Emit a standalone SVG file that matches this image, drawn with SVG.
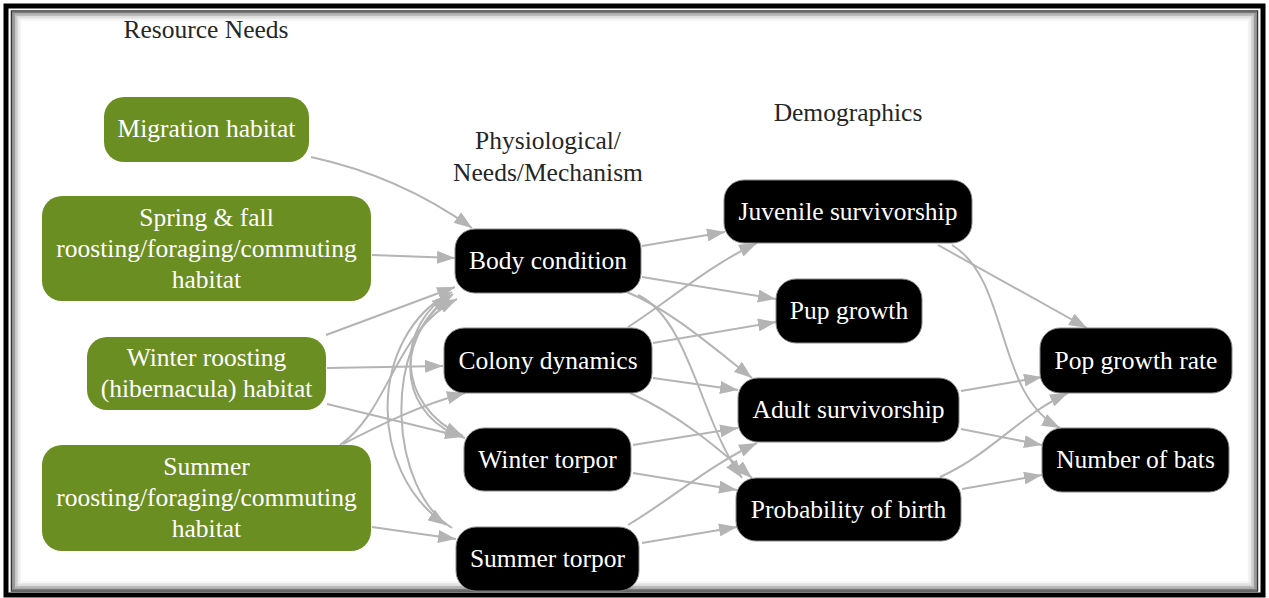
<svg xmlns="http://www.w3.org/2000/svg" width="1269" height="598" viewBox="0 0 1269 598">
<style>
.g{fill:#6b8e23;}
.b{fill:#000;stroke:#8a8a8a;stroke-width:1;}
.t{font-size:25.5px;fill:#fff;text-anchor:middle;}
.h{font-size:25.5px;fill:#262626;text-anchor:middle;}
.e{fill:none;stroke:#b4b4b4;stroke-width:2;marker-end:url(#ah);}
</style>
<defs>
<marker id="ah" markerUnits="userSpaceOnUse" markerWidth="18" markerHeight="13" refX="18" refY="6.5" orient="auto">
<path d="M0,0 L18,6.5 L0,13 z" fill="#b4b4b4"/>
</marker>
</defs>
<rect x="0" y="0" width="1269" height="598" fill="#fff"/>
<g id="frame" fill="none">
<rect x="6" y="6" width="1257" height="589" stroke="#000" stroke-width="5"/>
<rect x="11.5" y="11" width="1246" height="580" stroke="#333" stroke-width="1.5"/>
<rect x="13" y="12.5" width="1243" height="577" stroke="#777" stroke-width="1.5"/>
<rect x="14.5" y="14" width="1240" height="574" stroke="#9a9a9a" stroke-width="1.5"/>
<rect x="16" y="15.5" width="1237" height="571" stroke="#bbb" stroke-width="1.5"/>
<rect x="17.5" y="17" width="1234" height="568" stroke="#d6d6d6" stroke-width="1.5"/>
<rect x="19" y="18.5" width="1231" height="565" stroke="#e8e8e8" stroke-width="1.5"/>
<rect x="20.5" y="20" width="1228" height="562" stroke="#f5f5f5" stroke-width="1.5"/>
</g>
<g id="headers" font-family="'Liberation Serif', 'Times New Roman', 'DejaVu Serif', serif">
<text class="h" x="206" y="38">Resource Needs</text>
<text class="h" x="548" y="149">Physiological/</text>
<text class="h" x="548" y="181">Needs/Mechanism</text>
<text class="h" x="848" y="121">Demographics</text>
</g>
<g id="connectors">
<path class="e" d="M311,157 C380,172 430,198 472,228"/>
<path class="e" d="M372,255 L455,258"/>
<path class="e" d="M326,335 L455,287"/>
<path class="e" d="M327,368 L443,366"/>
<path class="e" d="M327,404 L463,437"/>
<path class="e" d="M340,445 C390,410 395,330 457,299"/>
<path class="e" d="M343,444 C380,425 420,405 465,393"/>
<path class="e" d="M372,527 L456,539"/>
<path class="e" d="M452,292 C395,325 395,405 463,436"/>
<path class="e" d="M450,293 C370,335 365,470 446,525"/>
<path class="e" d="M452,528 C390,490 380,345 450,296"/>
<path class="e" d="M465,438 C405,420 385,345 453,294"/>
<path class="e" d="M642,246 L725,232"/>
<path class="e" d="M642,277 L776,299"/>
<path class="e" d="M628,327 C670,300 710,265 757,243"/>
<path class="e" d="M653,343 L776,322"/>
<path class="e" d="M627,292 C670,310 710,345 752,378"/>
<path class="e" d="M638,295 C690,320 700,420 742,478"/>
<path class="e" d="M653,378 L738,390"/>
<path class="e" d="M630,393 C680,415 720,450 752,478"/>
<path class="e" d="M633,445 L738,428"/>
<path class="e" d="M633,473 L737,490"/>
<path class="e" d="M628,525 C670,500 710,465 757,443"/>
<path class="e" d="M642,543 L737,527"/>
<path class="e" d="M938,245 L1087,328"/>
<path class="e" d="M952,245 C1010,280 995,395 1060,428"/>
<path class="e" d="M961,391 L1042,377"/>
<path class="e" d="M961,429 L1042,445"/>
<path class="e" d="M940,477 C990,455 1020,415 1068,393"/>
<path class="e" d="M962,489 L1042,475"/>
</g>
<g id="nodes" font-family="'Liberation Serif', 'Times New Roman', 'DejaVu Serif', serif">
<g id="migration"><rect class="g" x="104" y="97" width="205" height="65" rx="20"/><text class="t" x="206.5" y="137">Migration habitat</text></g>
<g id="springfall"><rect class="g" x="42" y="196" width="329" height="105" rx="20"/><text class="t" x="206.5" y="225.5">Spring &amp; fall</text><text class="t" x="206.5" y="256.5">roosting/foraging/commuting</text><text class="t" x="206.5" y="287.5">habitat</text></g>
<g id="winterroost"><rect class="g" x="87" y="337" width="239" height="73" rx="20"/><text class="t" x="206.5" y="366">Winter roosting</text><text class="t" x="206.5" y="397">(hibernacula) habitat</text></g>
<g id="summerroost"><rect class="g" x="42" y="445" width="329" height="106" rx="20"/><text class="t" x="206.5" y="475">Summer</text><text class="t" x="206.5" y="506">roosting/foraging/commuting</text><text class="t" x="206.5" y="537">habitat</text></g>
<g id="body"><rect class="b" x="455" y="229" width="186" height="64" rx="20"/><text class="t" x="548" y="269">Body condition</text></g>
<g id="colony"><rect class="b" x="444" y="328" width="208" height="65" rx="20"/><text class="t" x="548" y="368.5">Colony dynamics</text></g>
<g id="wtorpor"><rect class="b" x="464" y="428" width="167" height="63" rx="20"/><text class="t" x="547.5" y="467.5">Winter torpor</text></g>
<g id="storpor"><rect class="b" x="456" y="527" width="183" height="64" rx="20"/><text class="t" x="547.5" y="567">Summer torpor</text></g>
<g id="juvenile"><rect class="b" x="724" y="180" width="248" height="63" rx="20"/><text class="t" x="848" y="219.5">Juvenile survivorship</text></g>
<g id="pup"><rect class="b" x="776" y="279" width="146" height="64" rx="20"/><text class="t" x="849" y="319">Pup growth</text></g>
<g id="adult"><rect class="b" x="738" y="378" width="221" height="64" rx="20"/><text class="t" x="848.5" y="418">Adult survivorship</text></g>
<g id="birth"><rect class="b" x="736" y="478" width="225" height="63" rx="20"/><text class="t" x="848.5" y="517.5">Probability of birth</text></g>
<g id="popgrowth"><rect class="b" x="1040" y="328" width="192" height="65" rx="20"/><text class="t" x="1136" y="368.5">Pop growth rate</text></g>
<g id="numbats"><rect class="b" x="1042" y="428" width="187" height="64" rx="20"/><text class="t" x="1135.5" y="468">Number of bats</text></g>
</g>
</svg>
